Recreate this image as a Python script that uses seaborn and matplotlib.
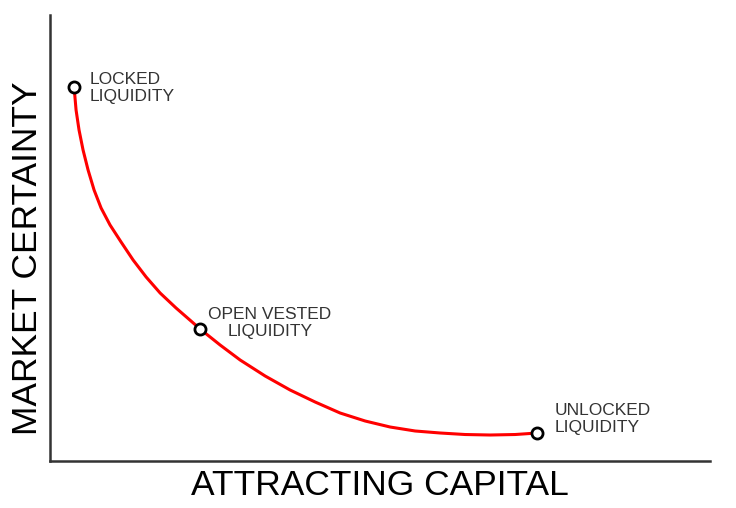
import numpy as np
import pandas as pd
import matplotlib
matplotlib.use("Agg")
import matplotlib.pyplot as plt
import seaborn as sns

# curve (arbitrary units, axes run 0-100)
curve_x = [3.64, 3.94, 4.39, 5.00, 5.76, 6.67, 7.73, 9.09, 10.76, 12.58, 14.55,
           16.67, 19.09, 21.52, 22.73, 25.76, 28.79, 32.58, 36.36, 40.15, 43.94,
           47.73, 51.52, 55.30, 59.09, 62.88, 66.67, 70.45, 73.79]
curve_y = [83.86, 78.70, 74.22, 69.73, 65.25, 60.76, 56.73, 52.91, 49.10, 45.07, 41.26,
           37.67, 34.30, 31.17, 29.60, 26.01, 22.65, 19.06, 15.92, 13.23, 10.76,
           8.97, 7.62, 6.73, 6.28, 5.94, 5.83, 5.94, 6.28]

# the three marked states
point_names = ["LOCKED\nLIQUIDITY", "OPEN VESTED\nLIQUIDITY", "UNLOCKED\nLIQUIDITY"]
point_x = [3.64, 22.73, 73.79]
point_y = [83.86, 29.60, 6.28]

sns.set_style("white")
plt.rcParams['font.family'] = ['Liberation Sans', 'DejaVu Sans']

curve = pd.DataFrame({"x": curve_x, "y": curve_y})
points = pd.DataFrame({"x": point_x, "y": point_y, "name": point_names})

fig = plt.figure(figsize=(7.36, 5.08), dpi=100)
ax = fig.add_axes([0.068, 0.0925, 0.897, 0.878])

sns.lineplot(data=curve, x="x", y="y", color="#ff0000", linewidth=2.2, sort=False, ax=ax)
ax.plot(points["x"], points["y"], "o", markersize=8, markerfacecolor="white",
        markeredgecolor="black", markeredgewidth=2, zorder=5)

# labels next to each marker
label_style = dict(va="center", fontsize=12.5, color="#333333", linespacing=1.15)
ax.text(points["x"][0] + 2.3, points["y"][0] - 0.2, points["name"][0], ha="left", **label_style)
ax.text(points["x"][1] + 10.6, points["y"][1] + 1.3, points["name"][1], ha="center", **label_style)
ax.text(points["x"][2] + 2.7, points["y"][2] + 3.2, points["name"][2], ha="left", **label_style)

ax.set_xlim(0, 100)
ax.set_ylim(0, 100)
ax.set_xticks([])
ax.set_yticks([])
ax.set_xlabel("ATTRACTING CAPITAL", fontsize=25.5, color="black", va="center")
ax.set_ylabel("MARKET CERTAINTY", fontsize=25.5, color="black", va="center")
ax.xaxis.set_label_coords((380 - 50) / 660, -(485 - 461) / 446)
ax.yaxis.set_label_coords(-(50 - 27) / 660, (461 - 258) / 446)

sns.despine(ax=ax)
for side in ["left", "bottom"]:
    ax.spines[side].set_color("#333333")
    ax.spines[side].set_linewidth(1.8)

fig.savefig("out.png", dpi=100)
